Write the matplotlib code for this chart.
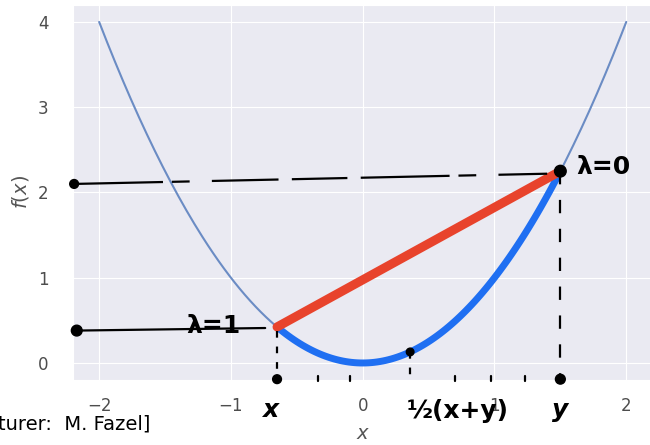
import numpy as np
import matplotlib.pyplot as plt
import seaborn as sns

sns.set_style('darkgrid')
plt.rcParams['font.family'] = ['DejaVu Sans']

# parabola f(x) = x^2 sampled on [-2, 2]
xs = np.linspace(-2, 2, 200)
fx = xs**2

# chord end points (x, y) and midpoint
pt_x = -0.65
pt_y = 1.5
pt_mid = 0.36
# guide levels
level_hi = 2.1
level_lo = 0.38
# little marks along the bottom
tick_marks = [-0.34, -0.1, 0.70, 0.97, 1.23]
y_base = -0.19

fig = plt.figure(figsize=(6.5, 4.45), dpi=100)
ax = fig.add_axes([0.112, 0.146, 0.892, 0.843])

ax.plot(xs, fx, color='#6b8cc4', lw=1.5)
ax.set_xlim(-2.2, 2.2)
ax.set_ylim(-0.2, 4.2)
ax.set_xticks([-2, -1, 0, 1, 2])
ax.set_yticks([0, 1, 2, 3, 4])
ax.tick_params(labelsize=12, colors='#4d4d4d')
ax.tick_params(axis='x', pad=9)
ax.tick_params(axis='y', pad=14)
ax.set_xlabel('$x$', fontsize=14, color='#555555', labelpad=6)
ax.set_ylabel('$f(x)$', fontsize=14, color='#555555', labelpad=5)

# hand-drawn overlay
fx_pt = pt_x**2
fy_pt = pt_y**2
seg = np.linspace(pt_x, pt_y, 100)
ax.plot(seg, seg**2, color='#1f6ff2', lw=5, solid_capstyle='round', zorder=4)
ax.plot([pt_x, pt_y], [fx_pt, fy_pt], color='#e8432c', lw=6.5, solid_capstyle='round', zorder=5)

ink = dict(color='black', lw=1.6, zorder=6, clip_on=False)
ax.plot([-2.19, 1.4], [level_hi, fy_pt - 0.03], dashes=(40, 4, 8, 10, 30, 6, 25, 6), **ink)
ax.plot([-2.17, -0.74], [level_lo, level_lo + 0.03], **ink)
ax.plot([pt_x, pt_x], [fx_pt - 0.05, y_base], dashes=(3, 4), **ink)
ax.plot([pt_y, pt_y], [fy_pt, y_base], dashes=(6, 7), **ink)
ax.plot([pt_mid, pt_mid], [pt_mid**2, y_base], dashes=(3, 4), **ink)
for t in tick_marks:
    ax.plot([t, t], [y_base + 0.04, y_base - 0.02], **ink)

dots_x = [-2.19, -2.17, pt_y, pt_x, pt_y, pt_mid]
dots_y = [level_hi, level_lo, fy_pt, y_base, y_base, pt_mid**2]
ax.scatter(dots_x, dots_y, s=[40, 60, 70, 40, 50, 30], color='black', zorder=7, clip_on=False)

hand = dict(color='black', fontsize=18, fontweight='bold', zorder=8, annotation_clip=False)
ax.annotate('λ=1', (-1.13, level_lo + 0.05), ha='center', va='center', **hand)
ax.annotate('λ=0', (1.83, fy_pt + 0.05), ha='center', va='center', **hand)
ax.annotate('x', (pt_x - 0.05, -0.55), ha='center', va='center', fontstyle='italic', **hand)
ax.annotate('½(x+y)', (0.72, -0.56), ha='center', va='center', **hand)
ax.annotate('y', (pt_y, -0.55), ha='center', va='center', fontstyle='italic', **hand)

fig.text(-0.003, 0.047, 'turer:  M. Fazel]', fontsize=14, color='black', ha='left', va='center')

fig.savefig('out.png', dpi=100)
